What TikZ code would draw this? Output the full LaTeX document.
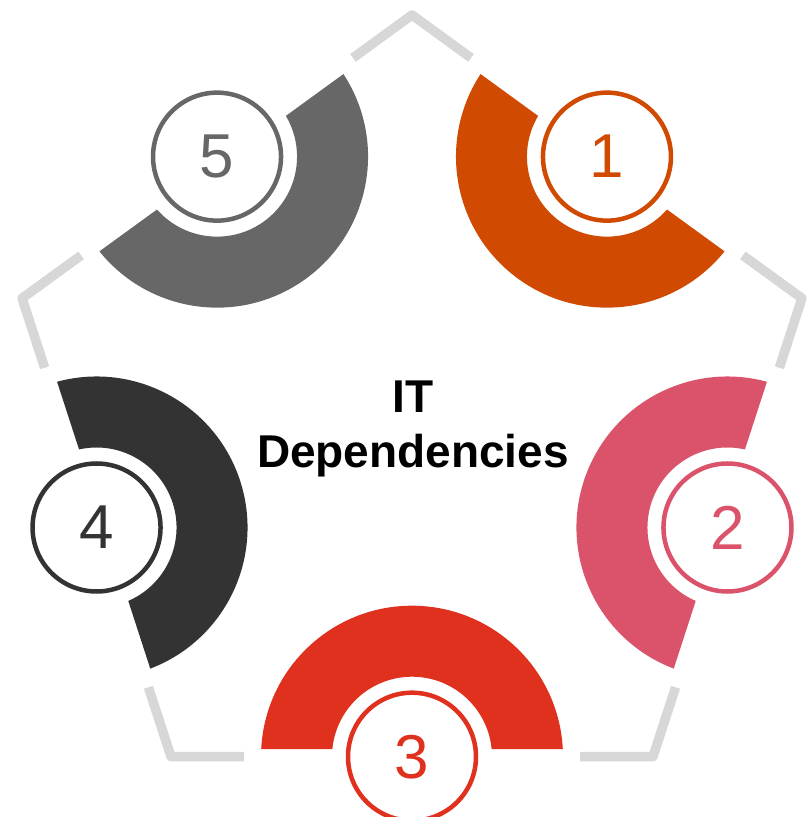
\documentclass[tikz,border=0pt]{standalone}
\usepackage{fontspec}
\setmainfont{Liberation Sans}
\usetikzlibrary{calc}

\definecolor{pwcorange}{HTML}{D04A02}
\definecolor{pwcrose}{HTML}{DB536A}
\definecolor{pwcred}{HTML}{E0301E}
\definecolor{darkgrey}{HTML}{333333}
\definecolor{midgrey}{HTML}{676767}
\definecolor{framegrey}{HTML}{D7D7D7}

\begin{document}
\begin{tikzpicture}[x=1pt, y=1pt,
  frame/.style={draw=framegrey, line width=9.5pt, line join=round, line cap=butt},
  badge/.style={circle, draw=#1, fill=white, line width=4.5pt, minimum size=128pt,
                inner sep=0pt, text=#1, font=\fontsize{62}{62}\selectfont},
  title/.style={anchor=base, inner sep=0pt, font=\bfseries\fontsize{46}{46}\selectfont},
]
\useasboundingbox (0,0) rectangle (809,817);

% pentagon centre, corners and edge midpoints
\coordinate (C) at (412,392);
\foreach \i/\a in {0/90, 1/18, 2/-54, 3/-126, 4/162}
  \coordinate (V\i) at ($(C)+(\a:410)$);
\foreach \k/\a in {1/54, 2/-18, 3/-90, 4/-162, 5/126}
  \coordinate (M\k) at ($(C)+(\a:331.7)$);

% pentagon outline, broken at every edge midpoint
\draw[frame] ($(M5)!168pt!(V0)$) -- (V0) -- ($(M1)!168pt!(V0)$);
\draw[frame] ($(M1)!168pt!(V1)$) -- (V1) -- ($(M2)!168pt!(V1)$);
\draw[frame] ($(M2)!168pt!(V2)$) -- (V2) -- ($(M3)!168pt!(V2)$);
\draw[frame] ($(M3)!168pt!(V3)$) -- (V3) -- ($(M4)!168pt!(V3)$);
\draw[frame] ($(M4)!168pt!(V4)$) -- (V4) -- ($(M5)!168pt!(V4)$);

% ring segments facing the centre, and numbered badges
\pgfmathsetmacro{\ao}{asin(7.5/151)}
\pgfmathsetmacro{\ai}{asin(7.5/80)}
\foreach \k/\a/\col in {1/54/pwcorange, 2/-18/pwcrose, 3/-90/pwcred, 4/-162/darkgrey, 5/126/midgrey} {
  \begin{scope}[shift={(M\k)}, rotate=\a+90]
    \fill[\col] (180-\ao:151) arc[start angle=180-\ao, end angle=\ao, radius=151]
      -- (\ai:80) arc[start angle=\ai, end angle=180-\ai, radius=80] -- cycle;
  \end{scope}
  \node[badge=\col] (n\k) at (M\k) {\k};
}

% centre title
\node[title] (t1) at (413,404) {IT};
\node[title] (t2) at (413,349) {Dependencies};
\end{tikzpicture}
\end{document}
